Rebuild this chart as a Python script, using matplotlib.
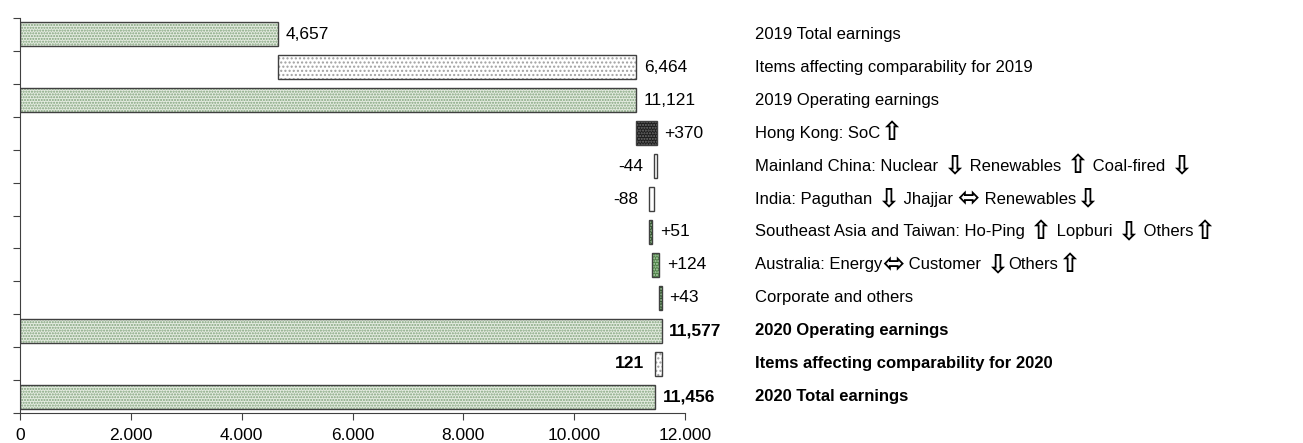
import matplotlib.pyplot as plt
import matplotlib.transforms as mtransforms
import numpy as np

plt.rcParams['font.family'] = ['Liberation Sans', 'DejaVu Sans']
plt.rcParams['hatch.linewidth'] = 1.0

categories = ["2019 Total earnings",
              "Items affecting comparability for 2019",
              "2019 Operating earnings",
              "Hong Kong: SoC\u21e7",
              "Mainland China: Nuclear \u21e9 Renewables \u21e7 Coal-fired \u21e9",
              "India: Paguthan \u21e9 Jhajjar \u2b04 Renewables\u21e9",
              "Southeast Asia and Taiwan: Ho-Ping \u21e7 Lopburi \u21e9 Others\u21e7",
              "Australia: Energy\u2b04 Customer \u21e9Others\u21e7",
              "Corporate and others",
              "2020 Operating earnings",
              "Items affecting comparability for 2020",
              "2020 Total earnings"]
starts = [0, 4657, 0, 11121, 11491, 11447, 11359, 11410, 11534, 0, 11577, 0]
ends = [4657, 11121, 11121, 11491, 11447, 11359, 11410, 11534, 11577, 11577, 11456, 11456]
value_labels = ["4,657", "6,464", "11,121", "+370", "-44", "-88", "+51", "+124", "+43",
                "11,577", "121", "11,456"]
bold_rows = [9, 10, 11]
left_label_rows = [4, 5, 10]

# fill style per row: (face, hatch colour)
styles = ["total", "items", "total", "dark", "white", "white", "dkgreen", "green", "dkgreen",
          "total", "items", "total"]
style_map = {
    "total": ("#e4ebe0", "#7fa27a", "......"),
    "items": ("#ffffff", "#a0a0a0", "...."),
    "dark": ("#1c1c1c", "#707070", "......"),
    "white": ("#ffffff", "#ffffff", ""),
    "dkgreen": ("#2f5a2b", "#b5d2b0", "......"),
    "green": ("#4f8348", "#b5d2b0", "......"),
}
arrows = ["\u21e7", "\u21e9", "\u2b04"]

fig = plt.figure(figsize=(13.03, 4.43), dpi=100)
ax = fig.add_axes([20 / 1303, 30 / 443, (685 - 20) / 1303, (425 - 30) / 443])

y = np.arange(len(categories))
left = np.minimum(starts, ends)
width = np.abs(np.array(ends) - np.array(starts))

for i in y:
    face, hcol, hatch = style_map[styles[i]]
    ax.barh(i, width[i], left=left[i], height=0.73, color=face,
            edgecolor=hcol, hatch=hatch, linewidth=0)
    ax.barh(i, width[i], left=left[i], height=0.73, fill=False,
            edgecolor="#404040", linewidth=1.0)

for i in y:
    w = "bold" if i in bold_rows else "normal"
    if i in left_label_rows:
        ax.text(left[i] - 200, i, value_labels[i], ha="right", va="center",
                fontsize=12.5, fontweight=w)
    else:
        ax.text(max(starts[i], ends[i]) + 140, i, value_labels[i], ha="left",
                va="center", fontsize=12.5, fontweight=w)

# category labels, with the arrow signs drawn larger than the words
trans = mtransforms.blended_transform_factory(fig.transFigure, ax.transData)
for i in y:
    w = "bold" if i in bold_rows else "normal"
    parts = []
    buf = ""
    for ch in categories[i]:
        if ch in arrows:
            if buf:
                parts.append(buf)
            parts.append(ch)
            buf = ""
        else:
            buf += ch
    if buf:
        parts.append(buf)
    prev = None
    for p in parts:
        is_arrow = p in arrows
        kw = dict(fontsize=19 if is_arrow else 12, fontweight="bold" if (is_arrow or w == "bold") else "normal",
                  va="center", ha="left", annotation_clip=False)
        if is_arrow:
            kw["family"] = ["DejaVu Sans"]
        if prev is None:
            prev = ax.annotate(p, xy=(755 / 1303, i), xycoords=trans, **kw)
        else:
            prev = ax.annotate(p, xy=(1, 0.5), xycoords=prev, xytext=(0, 0),
                               textcoords="offset points", **kw)

ax.set_ylim(len(categories) - 0.5, -0.5)
ax.set_yticks(np.arange(len(categories) + 1) - 0.5)
ax.set_yticklabels([])
ax.set_xlim(0, 12000)
ax.set_xticks(np.arange(0, 12001, 2000))
ax.set_xticklabels([f"{v:,}".replace(",", ".") for v in range(0, 12001, 2000)],
                   fontsize=12.5)
ax.tick_params(axis="both", direction="out", length=5, color="#404040")
ax.tick_params(axis="x", pad=6)
ax.spines["top"].set_visible(False)
ax.spines["right"].set_visible(False)
ax.spines["left"].set_color("#404040")
ax.spines["bottom"].set_color("#404040")

fig.savefig("out.png", dpi=100)
